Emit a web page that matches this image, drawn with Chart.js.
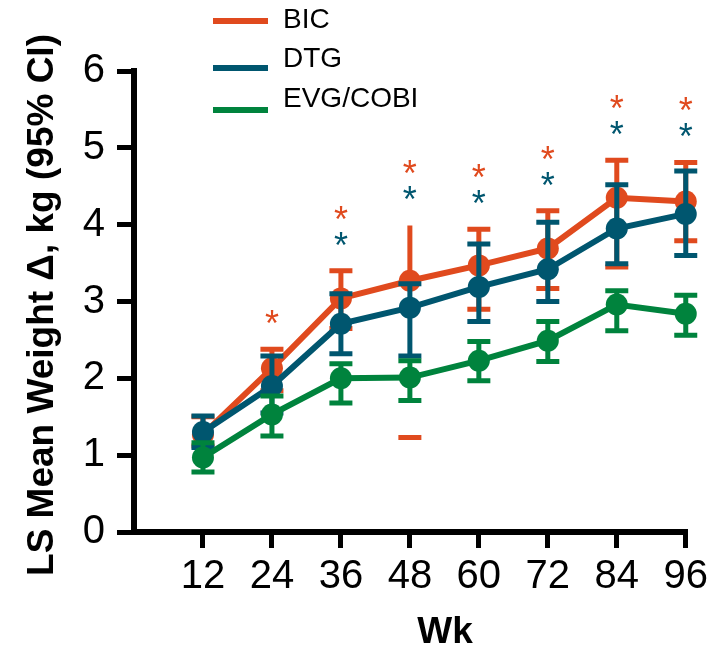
<!DOCTYPE html>
<html>
<head>
<meta charset="utf-8">
<script src="https://cdn.jsdelivr.net/npm/chart.js@4.4.1/dist/chart.umd.min.js"></script>
<style>
    html, body { margin: 0; padding: 0; background: #fff; }
    #wrap { width: 713px; height: 645px; position: relative; }
</style>
</head>
<body>
<div id="wrap"><canvas id="weightChart"></canvas></div>
<script>
// Data (LS mean weight change, kg, with 95% CI)
const weeks = [12, 24, 36, 48, 60, 72, 84, 96];
const yTicks = [0, 1, 2, 3, 4, 5, 6];

const bicMean = [1.27, 2.13, 3.04, 3.27, 3.47, 3.69, 4.35, 4.30];
const bicLow  = [1.12, 1.84, 2.65, 1.23, 2.90, 3.17, 3.45, 3.79];
const bicHigh = [1.50, 2.38, 3.40, 3.99, 3.94, 4.18, 4.84, 4.81];

const dtgMean = [1.30, 1.90, 2.71, 2.92, 3.19, 3.42, 3.95, 4.14];
const dtgLow  = [1.10, 1.55, 2.32, 2.29, 2.74, 3.00, 3.49, 3.60];
const dtgHigh = [1.51, 2.29, 3.10, 3.23, 3.75, 4.03, 4.52, 4.70];

const evgMean = [0.97, 1.53, 2.00, 2.01, 2.23, 2.49, 2.96, 2.84];
const evgLow  = [0.78, 1.25, 1.68, 1.71, 1.97, 2.22, 2.62, 2.56];
const evgHigh = [1.16, 1.77, 2.19, 2.23, 2.48, 2.74, 3.14, 3.08];

// the figure draws the BIC wk 48 bar oddly: upper whisker with no cap, lower cap only
const bicPartial = [48];

// significance markers (* vs EVG/COBI)
const bicSig = [false, true, true, true, true, true, true, true];
const dtgSig = [false, false, true, true, true, true, true, true];

const ORANGE = '#E04A1E';
const BLUE = '#00566F';
const GREEN = '#00833D';
const FONT = "'Liberation Sans', Arial, Helvetica, sans-serif";

function toPoints(vals) {
    return vals.map((v, i) => ({ x: weeks[i], y: v }));
}

function makeSet(label, vals, low, high, color, order, partial) {
    return {
        label: label,
        data: toPoints(vals),
        low: low,
        high: high,
        partial: partial || [],
        borderColor: color,
        backgroundColor: color,
        borderWidth: 6,
        pointRadius: 11,
        pointBorderWidth: 0,
        pointBackgroundColor: color,
        tension: 0,
        clip: false,
        order: order
    };
}

// Error bars drawn just before each dataset's line so stacking matches
const errorBars = {
    id: 'errorBars',
    beforeDatasetDraw(chart, args) {
        const ds = chart.data.datasets[args.index];
        const xs = chart.scales.x, ys = chart.scales.y;
        const ctx = chart.ctx;
        ctx.save();
        ctx.strokeStyle = ds.borderColor;
        ctx.lineWidth = 5;
        ctx.lineCap = 'butt';
        ds.low.forEach((lo, i) => {
            const x = xs.getPixelForValue(weeks[i]);
            const yMid = ys.getPixelForValue(ds.data[i].y);
            const y1 = ys.getPixelForValue(lo);
            const y2 = ys.getPixelForValue(ds.high[i]);
            ctx.beginPath();
            if (ds.partial.includes(weeks[i])) {
                ctx.moveTo(x, yMid); ctx.lineTo(x, y2);
                ctx.moveTo(x - 11.5, y1); ctx.lineTo(x + 11.5, y1);
            } else {
                ctx.moveTo(x, y1); ctx.lineTo(x, y2);
                ctx.moveTo(x - 11.5, y1); ctx.lineTo(x + 11.5, y1);
                ctx.moveTo(x - 11.5, y2); ctx.lineTo(x + 11.5, y2);
            }
            ctx.stroke();
        });
        ctx.restore();
    }
};

// Asterisks stacked above the highest whisker, legend and axis titles
const annotations = {
    id: 'annotations',
    afterDraw(chart) {
        const ctx = chart.ctx;
        const xs = chart.scales.x, ys = chart.scales.y;
        ctx.save();

        ctx.font = '36px ' + FONT;
        ctx.textAlign = 'center';
        ctx.textBaseline = 'alphabetic';
        const m = ctx.measureText('*');
        const shift = (m.actualBoundingBoxAscent - m.actualBoundingBoxDescent) / 2;
        weeks.forEach((w, i) => {
            const x = xs.getPixelForValue(w);
            const top = Math.min(ys.getPixelForValue(bicHigh[i]), ys.getPixelForValue(dtgHigh[i]));
            let slot = 0;
            if (dtgSig[i]) {
                ctx.fillStyle = BLUE;
                ctx.fillText('*', x, top - 32 - slot * 26 + shift);
                slot++;
            }
            if (bicSig[i]) {
                ctx.fillStyle = ORANGE;
                ctx.fillText('*', x, top - 32 - slot * 26 + shift);
                slot++;
            }
        });

        // legend
        const legendLines = [21, 68, 110];
        const legendText = [28, 67, 107];
        ctx.font = '28px ' + FONT;
        ctx.textAlign = 'left';
        ctx.textBaseline = 'alphabetic';
        [0, 1, 2].forEach(k => {
            const ds = chart.data.datasets[k];
            ctx.strokeStyle = ds.borderColor;
            ctx.lineWidth = 6;
            ctx.beginPath();
            ctx.moveTo(213, legendLines[k]);
            ctx.lineTo(268, legendLines[k]);
            ctx.stroke();
            ctx.fillStyle = '#000';
            ctx.fillText(ds.label, 283, legendText[k]);
        });

        // axis titles
        ctx.fillStyle = '#000';
        ctx.font = 'bold 37px ' + FONT;
        ctx.textAlign = 'center';
        ctx.fillText('Wk', 445, 643);
        ctx.translate(53, 305);
        ctx.rotate(-Math.PI / 2);
        ctx.fillText('LS Mean Weight \u0394, kg (95% CI)', 0, 0);
        ctx.restore();
    }
};

const ctx = document.getElementById('weightChart').getContext('2d');
new Chart(ctx, {
    type: 'line',
    data: {
        datasets: [
            makeSet('BIC', bicMean, bicLow, bicHigh, ORANGE, 2, bicPartial),
            makeSet('DTG', dtgMean, dtgLow, dtgHigh, BLUE, 1),
            makeSet('EVG/COBI', evgMean, evgLow, evgHigh, GREEN, 0)
        ]
    },
    options: {
        responsive: true,
        maintainAspectRatio: false,
        animation: false,
        layout: { padding: { top: 71, right: 25, left: 0, bottom: 0 } },
        plugins: {
            legend: { display: false },
            tooltip: { enabled: false }
        },
        scales: {
            x: {
                type: 'linear',
                min: 0,
                max: 96,
                afterBuildTicks: scale => { scale.ticks = weeks.map(v => ({ value: v })); },
                afterFit: scale => { scale.height = 113; },
                border: { display: true, width: 6, color: '#000' },
                grid: {
                    drawOnChartArea: false,
                    drawTicks: true,
                    tickLength: 16,
                    lineWidth: 5,
                    tickWidth: 5,
                    tickColor: '#000',
                    color: '#000'
                },
                ticks: {
                    autoSkip: false,
                    maxRotation: 0,
                    padding: 5,
                    color: '#000',
                    font: { family: FONT, size: 40 }
                }
            },
            y: {
                min: 0,
                max: 6,
                afterBuildTicks: scale => { scale.ticks = yTicks.map(v => ({ value: v })); },
                afterFit: scale => { scale.width = 134; },
                border: { display: true, width: 6, color: '#000' },
                grid: {
                    drawOnChartArea: false,
                    drawTicks: true,
                    tickLength: 17,
                    lineWidth: 5,
                    tickWidth: 5,
                    tickColor: '#000',
                    color: '#000'
                },
                ticks: {
                    padding: 12,
                    color: '#000',
                    font: { family: FONT, size: 40 }
                }
            }
        }
    },
    plugins: [errorBars, annotations]
});
</script>
</body>
</html>
